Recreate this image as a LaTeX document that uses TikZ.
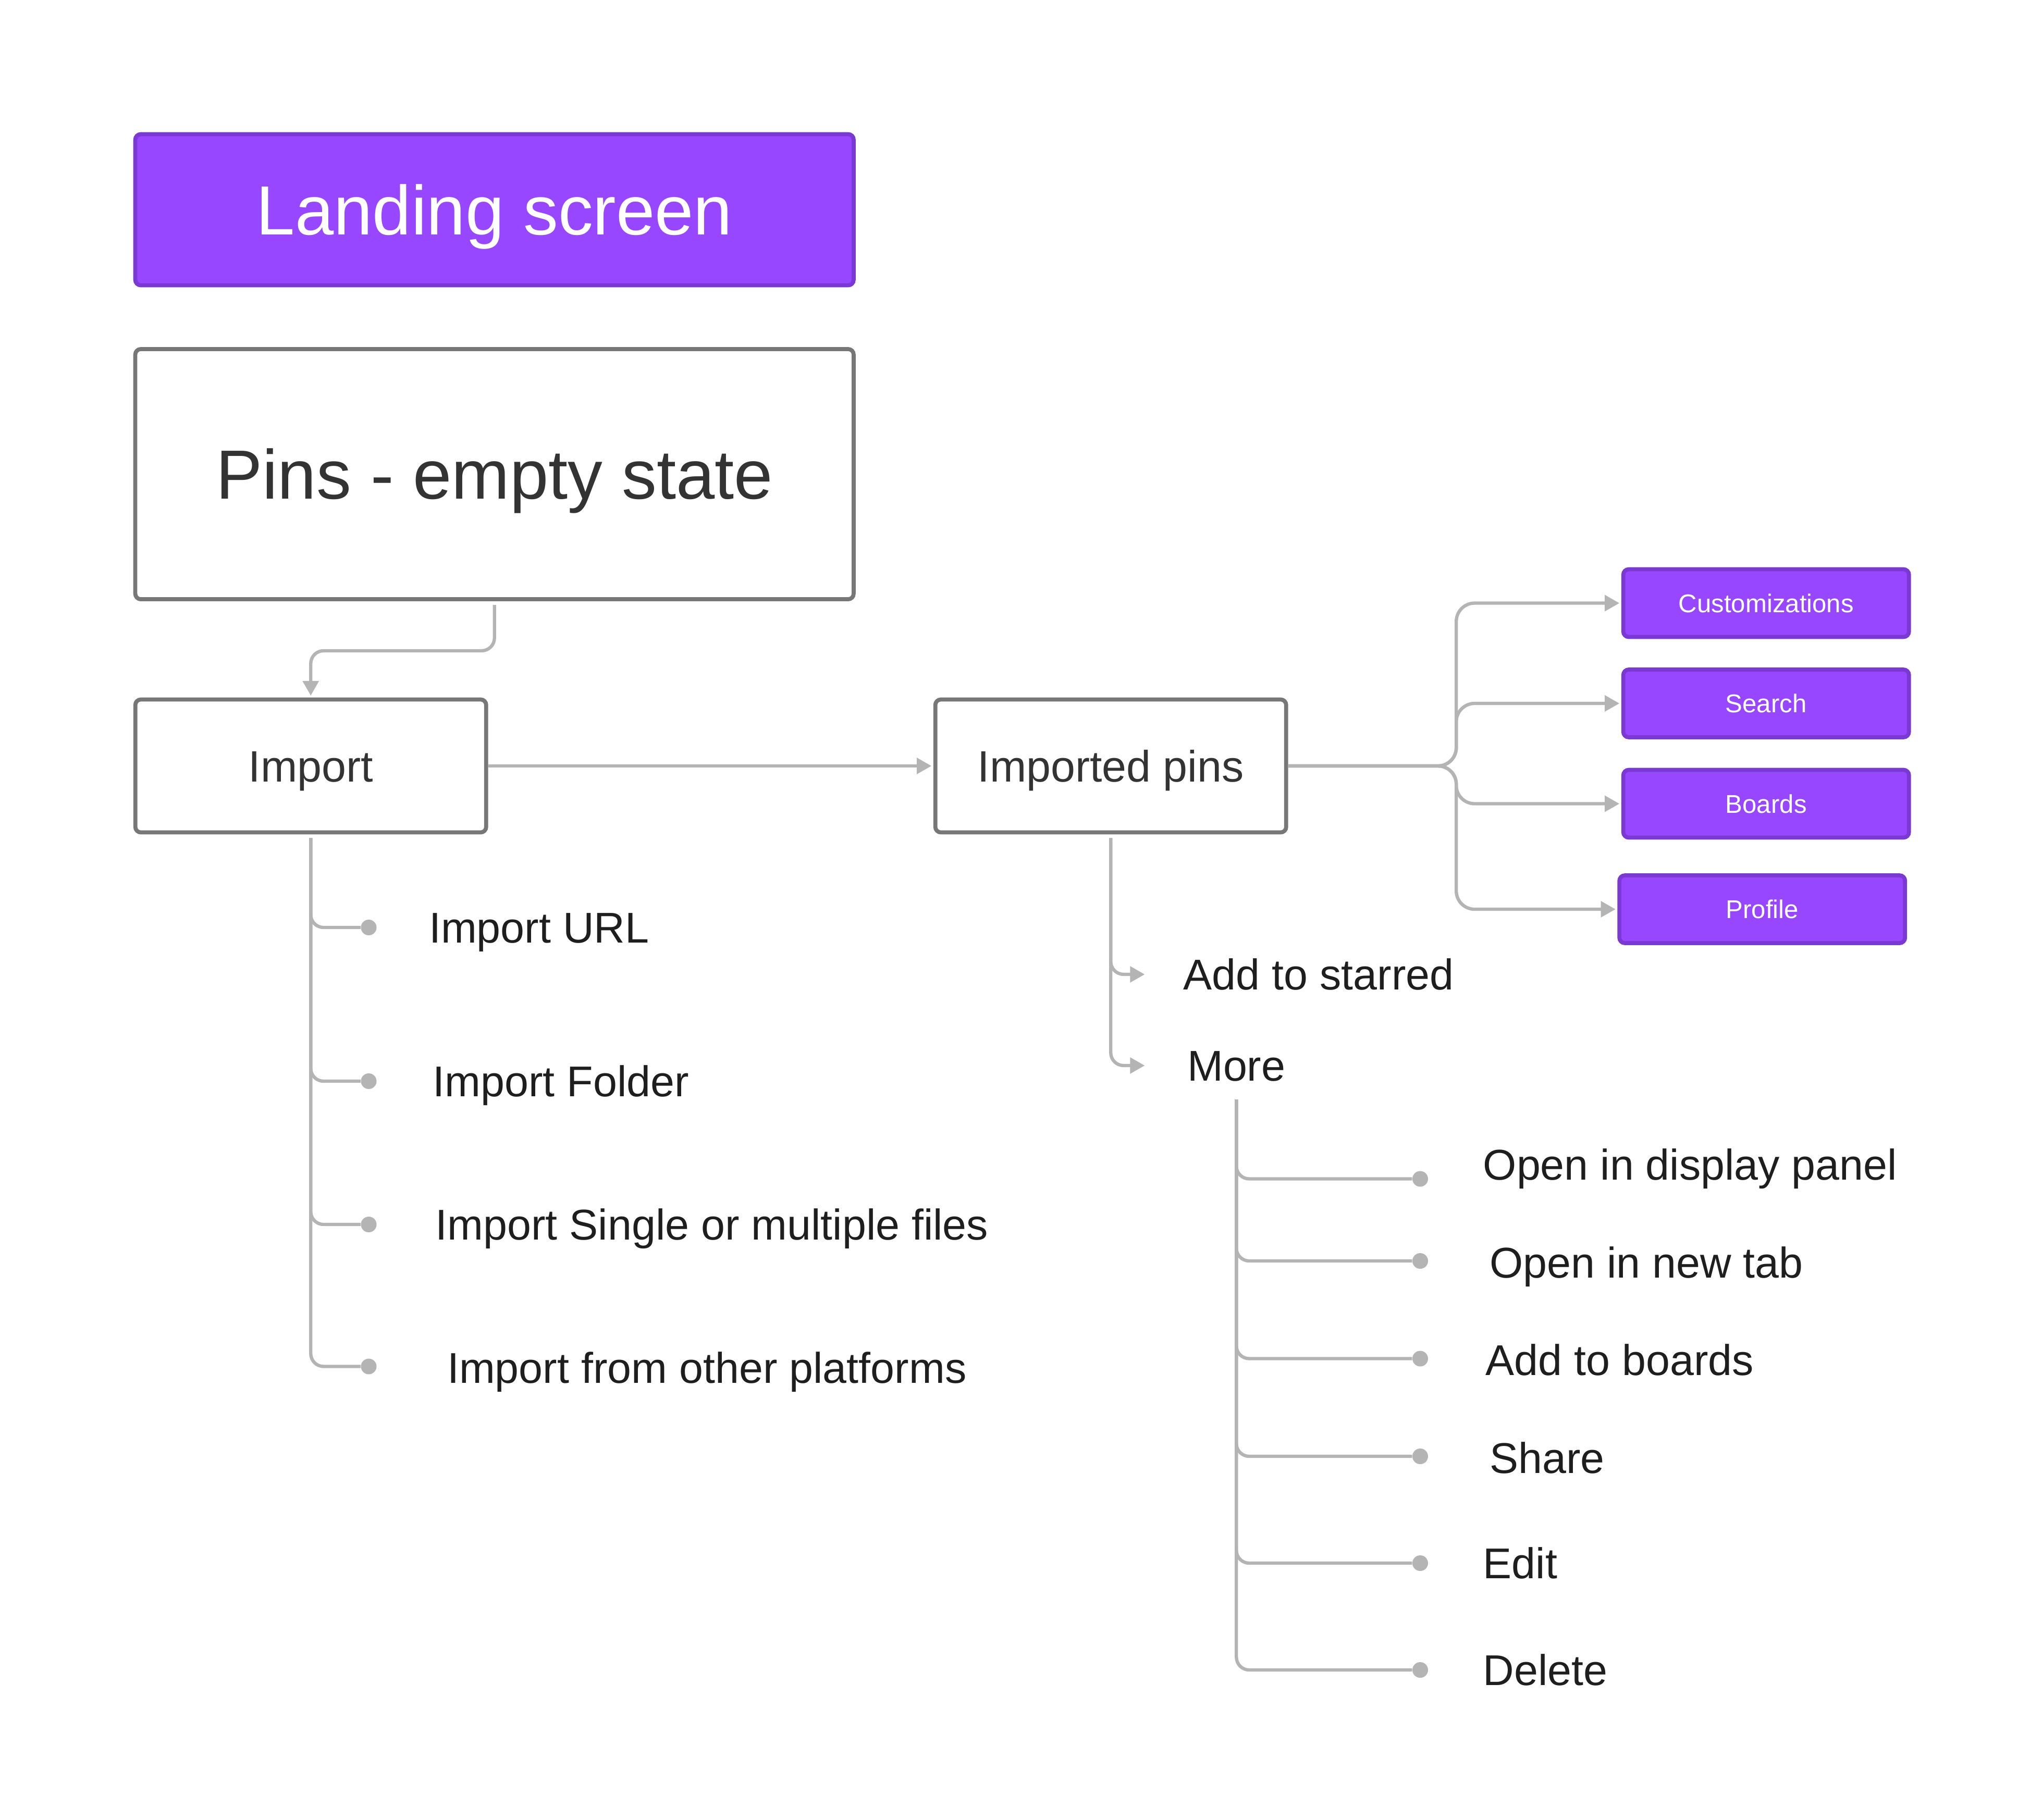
\documentclass[tikz,border=0pt]{standalone}
\usepackage{fontspec}
\setmainfont{Liberation Sans}
\usetikzlibrary{arrows.meta}
\definecolor{landing}{RGB}{151, 71, 255}
\definecolor{landingborder}{RGB}{123, 57, 212}
\definecolor{boxborder}{RGB}{119, 119, 119}
\definecolor{wiregray}{RGB}{180, 180, 180}
\definecolor{ink}{RGB}{30, 30, 30}
\definecolor{boxink}{RGB}{51, 51, 51}

\tikzset{
	screen/.style={draw=boxborder, fill=white, line width=2.2pt, rounded corners=3pt, text=boxink, inner sep=0pt},
	purplebox/.style={draw=landingborder, fill=landing, line width=2.2pt, rounded corners=3pt, text=white, inner sep=0pt},
	hugetext/.style={font=\fontsize{38}{44}\selectfont, text height=27.2pt, text depth=0pt},
	midtext/.style={font=\fontsize{24}{28}\selectfont, text height=17.2pt, text depth=0pt},
	smalltext/.style={font=\fontsize{14}{16}\selectfont, text height=10pt, text depth=0pt},
	entry/.style={anchor=west, text=ink, inner sep=0pt, font=\fontsize{23.5}{27}\selectfont, text height=16.8pt, text depth=0pt},
	leafdot/.style={circle, fill=wiregray, inner sep=0pt, minimum size=0.3cm},
	wire/.style={draw=wiregray, line width=1.8pt, rounded corners=7pt},
	wirearrow/.style={wire, -{Triangle[length=8pt, width=8.5pt]}, shorten >=1pt},
}

\begin{document}
\begin{tikzpicture}[x=0.025cm, y=-0.025cm]
	\useasboundingbox (0,0) rectangle (1568,1397);
	\node[purplebox, hugetext, minimum width=13.78cm, minimum height=2.9cm] (landing) at (379.5,161) {Landing screen};
	\node[screen, hugetext, minimum width=13.78cm, minimum height=4.8cm] (pins) at (379.5,364) {Pins - empty state};
	\node[screen, midtext, minimum width=6.73cm, minimum height=2.55cm] (import) at (238.5,588) {Import};
	\node[screen, midtext, minimum width=6.73cm, minimum height=2.55cm] (imported) at (852.5,588) {Imported pins};
	\node[purplebox, smalltext, minimum width=5.48cm, minimum height=1.3cm] (custom) at (1355.5,463) {Customizations};
	\node[purplebox, smalltext, minimum width=5.48cm, minimum height=1.3cm] (search) at (1355.5,540) {Search};
	\node[purplebox, smalltext, minimum width=5.48cm, minimum height=1.3cm] (boards) at (1355.5,617) {Boards};
	\node[purplebox, smalltext, minimum width=5.48cm, minimum height=1.3cm] (profile) at (1352.5,698) {Profile};

	\node[leafdot] (urldot) at (283,712) {};
	\node[leafdot] (folderdot) at (283,830) {};
	\node[leafdot] (filesdot) at (283,940) {};
	\node[leafdot] (platformdot) at (283,1049) {};
	\node[entry] (url) at (329,712) {Import URL};
	\node[entry] (folder) at (332,830) {Import Folder};
	\node[entry] (files) at (334,940) {Import Single or multiple files};
	\node[entry] (platform) at (343,1050) {Import from other platforms};

	\coordinate (starin) at (880,748);
	\coordinate (morein) at (880,818);
	\node[entry] (starred) at (908,748) {Add to starred};
	\node[entry] (more) at (911,818) {More};

	\node[leafdot] (opendot) at (1090,905) {};
	\node[leafdot] (tabdot) at (1090,968) {};
	\node[leafdot] (boarddot) at (1090,1043) {};
	\node[leafdot] (sharedot) at (1090,1118) {};
	\node[leafdot] (editdot) at (1090,1200) {};
	\node[leafdot] (deletedot) at (1090,1282) {};
	\node[entry] (open) at (1138,894) {Open in display panel};
	\node[entry] (newtab) at (1143,969) {Open in new tab};
	\node[entry] (addboards) at (1140,1044) {Add to boards};
	\node[entry] (share) at (1143,1119) {Share};
	\node[entry] (edit) at (1138,1200) {Edit};
	\node[entry] (delete) at (1138,1282) {Delete};

	\draw[wirearrow, shorten <=2pt] (pins.south) -- ++(0,38) -| (import.north);
	\draw[wirearrow] (import.east) -- (imported.west);
	\draw[wirearrow, rounded corners=10pt] (imported.east) -- ++(129,0) |- (custom.west);
	\draw[wirearrow, rounded corners=10pt] (imported.east) -- ++(129,0) |- (search.west);
	\draw[wirearrow, rounded corners=10pt] (imported.east) -- ++(129,0) |- (boards.west);
	\draw[wirearrow, rounded corners=10pt] (imported.east) -- ++(129,0) |- (profile.west);

	\draw[wire, shorten <=2pt] (import.south) |- (urldot);
	\draw[wire, shorten <=2pt] (import.south) |- (folderdot);
	\draw[wire, shorten <=2pt] (import.south) |- (filesdot);
	\draw[wire, shorten <=2pt] (import.south) |- (platformdot);

	\draw[wirearrow, shorten <=2pt] (imported.south) |- (starin);
	\draw[wirearrow, shorten <=2pt] (imported.south) |- (morein);

	\draw[wire, shorten <=10pt] (more.south) |- (opendot);
	\draw[wire, shorten <=10pt] (more.south) |- (tabdot);
	\draw[wire, shorten <=10pt] (more.south) |- (boarddot);
	\draw[wire, shorten <=10pt] (more.south) |- (sharedot);
	\draw[wire, shorten <=10pt] (more.south) |- (editdot);
	\draw[wire, shorten <=10pt] (more.south) |- (deletedot);
\end{tikzpicture}
\end{document}
